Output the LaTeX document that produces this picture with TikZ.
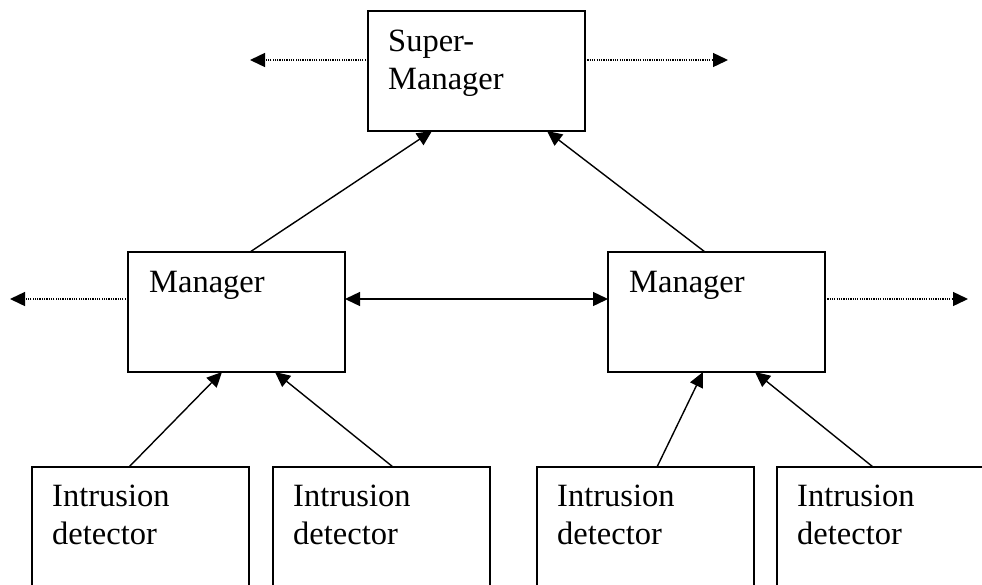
\documentclass[tikz,border=0pt]{standalone}
\usepackage{fontspec}
\setmainfont{Liberation Serif}
\usetikzlibrary{arrows.meta}
\begin{document}
\begin{tikzpicture}[x=1pt,y=-1pt,
  unit/.style={draw, line width=1.7pt, minimum width=217pt, minimum height=120pt,
               inner sep=0pt, outer sep=0pt, anchor=north west},
  boxtext/.style={anchor=north west, inner sep=0pt, align=left,
                  font=\fontsize{32.5}{38}\selectfont},
  tip/.tip={Triangle[length=15pt,width=14pt]},
  link/.style={line width=1.4pt, -tip},
  peer/.style={line width=1.4pt, tip-tip},
  outlink/.style={line width=1.4pt, dash pattern=on 1.2pt off 1.1pt, -tip}]
  \useasboundingbox (0,0) rectangle (982,584);

  % boxes
  \node[unit] (super) at (368,11) {};
  \node[unit] (mgrL) at (128,252) {};
  \node[unit] (mgrR) at (608,252) {};
  \node[unit] (id1) at (32,467) {};
  \node[unit] (id2) at (273,467) {};
  \node[unit] (id3) at (537,467) {};
  \node[unit] (id4) at (777,467) {};

  % box captions
  \node[boxtext] (tSuper) at ([xshift=20pt,yshift=-19pt]super.north west) {Super-\\Manager};
  \node[boxtext] (tMgrL) at ([xshift=21pt,yshift=-19pt]mgrL.north west) {Manager};
  \node[boxtext] (tMgrR) at ([xshift=21pt,yshift=-19pt]mgrR.north west) {Manager};
  \node[boxtext] (tId1) at ([xshift=20pt,yshift=-18pt]id1.north west) {Intrusion\\detector};
  \node[boxtext] (tId2) at ([xshift=20pt,yshift=-18pt]id2.north west) {Intrusion\\detector};
  \node[boxtext] (tId3) at ([xshift=20pt,yshift=-18pt]id3.north west) {Intrusion\\detector};
  \node[boxtext] (tId4) at ([xshift=20pt,yshift=-18pt]id4.north west) {Intrusion\\detector};

  % free ends of the outward links
  \coordinate (outSL) at (250,60);
  \coordinate (outSR) at (728,60);
  \coordinate (outML) at (10,299);
  \coordinate (outMR) at (968,299);

  % detectors report to managers
  \draw[link] ([xshift=97pt]id1.north west) -- ([xshift=94pt]mgrL.south west);
  \draw[link] ([xshift=120pt]id2.north west) -- ([xshift=147pt]mgrL.south west);
  \draw[link] ([xshift=120pt]id3.north west) -- ([xshift=95pt]mgrR.south west);
  \draw[link] ([xshift=96pt]id4.north west) -- ([xshift=147pt]mgrR.south west);

  % managers report to the super-manager
  \draw[link] ([xshift=122pt]mgrL.north west) -- ([xshift=64pt]super.south west);
  \draw[link] ([xshift=97pt]mgrR.north west) -- ([xshift=179pt]super.south west);

  % managers talk to each other
  \draw[peer] ([yshift=-47pt]mgrL.north east) -- ([yshift=-47pt]mgrR.north west);

  % links to the outside
  \draw[outlink] ([yshift=-49pt]super.north west) -- (outSL);
  \draw[outlink] ([yshift=-49pt]super.north east) -- (outSR);
  \draw[outlink] ([yshift=-47pt]mgrL.north west) -- (outML);
  \draw[outlink] ([yshift=-47pt]mgrR.north east) -- (outMR);
\end{tikzpicture}
\end{document}
